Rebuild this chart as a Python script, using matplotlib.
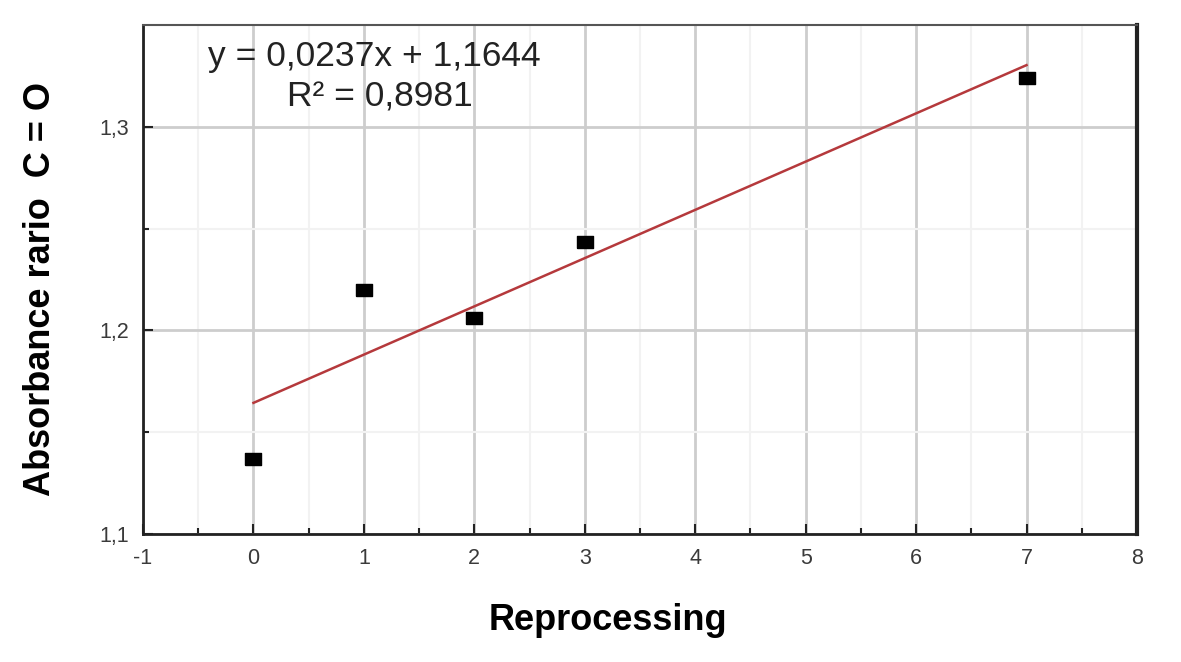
"""
Absorbance ratio C=O vs reprocessing cycles, with linear fit
"""
import matplotlib
matplotlib.use('Agg')

import matplotlib.pyplot as plt
import numpy as np
from matplotlib.ticker import MultipleLocator, FixedFormatter, FixedLocator

plt.rcParams['font.family'] = ['Liberation Sans', 'DejaVu Sans']
plt.rcParams['axes.unicode_minus'] = False

# Data
reprocessing = [0, 1, 2, 3, 7]
absorbance = [1.1369, 1.2199, 1.2061, 1.2435, 1.3242]

# Fit coefficients as printed on the chart
slope = 0.0237
intercept = 1.1644
r_squared = 0.8981

y_ticks = [1.1, 1.2, 1.3]
y_tick_labels = ['1,1', '1,2', '1,3']
x_ticks = list(range(-1, 9))

fig = plt.figure(figsize=(11.81, 6.62), dpi=100)
ax = fig.add_axes([0.1211, 0.1934, 0.8416, 0.7688])

# Grid: strong at integers, faint at halves
ax.set_xlim(-1, 8)
ax.set_ylim(1.1, 1.35)
ax.xaxis.set_major_locator(FixedLocator(x_ticks))
ax.xaxis.set_minor_locator(MultipleLocator(0.5))
ax.yaxis.set_major_locator(FixedLocator(y_ticks))
ax.yaxis.set_major_formatter(FixedFormatter(y_tick_labels))
ax.yaxis.set_minor_locator(FixedLocator([1.15, 1.25]))
ax.grid(which='major', color='#cdcdcd', linewidth=2.0)
ax.grid(which='minor', color='#f2f2f2', linewidth=1.5)
ax.set_axisbelow(True)

# Fit line across the data range
xf = np.array([min(reprocessing), max(reprocessing)])
ax.plot(xf, slope * xf + intercept, color='#b5393c', linewidth=1.8, zorder=2)

# Rectangular black markers
rect = [(-1, -0.68), (1, -0.68), (1, 0.68), (-1, 0.68), (-1, -0.68)]
ax.plot(reprocessing, absorbance, linestyle='none', marker=rect,
        markersize=12, color='black', zorder=3)

# Equation text
eq = f"y = {slope:.4f}x + {intercept:.4f}".replace('.', ',')
r2 = f"R² = {r_squared:.4f}".replace('.', ',')
ax.text(0.233, 0.939, eq, transform=ax.transAxes, ha='center', va='center',
        fontsize=25.5, color='#222222')
ax.text(0.238, 0.859, r2, transform=ax.transAxes, ha='center', va='center',
        fontsize=25.5, color='#222222')

# Axes styling
ax.tick_params(which='both', direction='in', colors='#222222',
               labelcolor='#3a3a3a', labelsize=15.5)
ax.tick_params(which='major', length=7, width=1.5, pad=10)
ax.tick_params(which='minor', length=4, width=1.5)
for side in ['left', 'bottom']:
    ax.spines[side].set_linewidth(2)
    ax.spines[side].set_color('#222222')
ax.spines['right'].set_linewidth(3)
ax.spines['right'].set_color('#222222')
ax.spines['top'].set_linewidth(1.5)
ax.spines['top'].set_color('#555555')

ax.set_xlabel('Reprocessing', fontsize=26, fontweight='bold', va='center')
ax.xaxis.set_label_coords(0.468, -0.171)
ax.set_ylabel('Absorbance rario  C = O', fontsize=26, fontweight='bold', va='center')
ax.yaxis.set_label_coords(-0.1036, 0.481)

fig.savefig('out.png', dpi=100)
plt.close(fig)
